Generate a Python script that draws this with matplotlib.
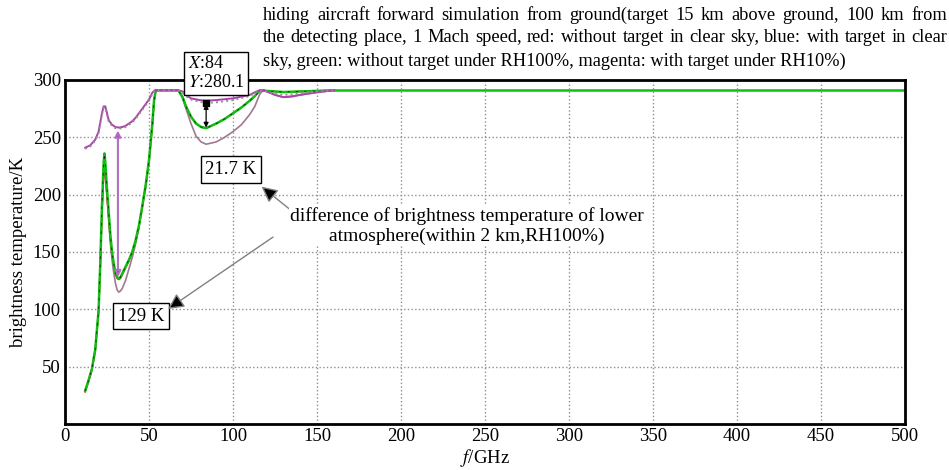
import numpy as np
import matplotlib
matplotlib.use("Agg")
import matplotlib.pyplot as plt

plt.rcParams['font.family'] = ['Liberation Serif', 'DejaVu Serif']
plt.rcParams['mathtext.fontset'] = 'stix'

# upper pair of curves (with / without target, dry air)
f_up = [12, 15, 18, 20, 21, 22, 23, 24, 25, 26, 28, 30, 32, 34, 36, 38, 40, 42, 44, 46, 48, 50,
        52, 53.5, 55, 67.5, 70, 72, 75, 80, 84, 90, 100, 110, 114, 116, 118, 120, 125, 130, 135,
        140, 150, 160]
tb_gray = [240, 242, 247, 254, 262, 270, 276, 276, 270, 264, 260, 258, 257.5, 258, 259, 261,
           263, 266, 270, 274, 278, 282, 288, 291, 291, 291, 289, 286, 283, 281, 280.1, 280.5,
           282.5, 286, 289.5, 291, 291, 290, 288, 287, 287.5, 288.5, 290, 291]
tb_mag = [241, 243, 248, 255, 263, 271, 277, 277, 271, 265, 261, 259, 258.5, 259, 260, 262,
          264, 267, 271, 275, 279, 283, 289, 291, 291, 291, 290, 287, 284, 282.5, 282, 282.5,
          284, 287, 290, 291, 291, 290, 287, 285, 285.5, 287, 289.5, 291]

# lower curves (humid air)
f_low = [12, 14, 16, 18, 20, 21, 22, 23, 23.5, 24, 25, 26, 27, 28, 29, 30, 31, 32, 33, 34, 36,
         38, 40, 42, 44, 46, 48, 50, 52, 53, 54, 67.5, 70, 72, 75, 78, 81, 84, 90, 95, 100, 105,
         110, 113, 116, 118, 120, 125, 130, 140, 150, 160]
tb_green = [29, 38, 48, 65, 99, 140, 190, 228, 236, 228, 205, 185, 165, 150, 140, 132, 128, 127,
            128, 131, 137, 143, 150, 160, 173, 190, 208, 230, 262, 282, 291, 291, 285, 277, 268,
            262, 259, 258, 262, 266, 271, 276, 282, 286, 291, 291, 290.5, 290, 289.5, 290,
            290.5, 291]
tb_red = [28, 37, 47, 64, 98, 138, 185, 218, 222, 216, 198, 180, 162, 148, 139, 131, 127, 126,
          127, 130, 136, 142, 149, 159, 172, 189, 207, 229, 261, 281, 291, 291, 285, 277, 268,
          262, 259, 258, 262, 266, 271, 276, 282, 286, 291, 291, 290.5, 290, 289.5, 290,
          290.5, 291]
tb_purple = [29, 38, 48, 65, 99, 140, 185, 222, 228, 222, 200, 178, 158, 143, 132, 123, 117, 115,
             116, 118, 125, 135, 145, 157, 172, 190, 208, 230, 262, 282, 291, 291, 284, 275, 262,
             251, 246, 244, 246, 250, 255, 261, 270, 277, 288, 291, 290, 287, 285, 287, 289, 291]

f_tail = [160, 500]
tb_tail = [291, 291]

title_lines = [
    "hiding aircraft forward simulation from ground(target 15 km above ground, 100 km from",
    "the detecting place, 1 Mach speed, red: without target in clear sky, blue: with target in clear",
    "sky, green: without target under RH100%, magenta: with target under RH10%)",
]

W, H = 949, 470
fig = plt.figure(figsize=(W / 100, H / 100), dpi=100)
ax = fig.add_axes([65 / W, (H - 424) / H, 840 / W, 344 / H])

ax.plot(f_low, tb_purple, '-', color='#a07890', lw=1.2)
ax.plot(f_low, tb_red, '-', color='#d03030', lw=1.2)
ax.plot(f_low, tb_green, '-', color='#10c010', lw=1.8)
ax.plot(f_tail, tb_tail, '-', color='#10c010', lw=1.8)
ax.plot(f_low, tb_green, '--', color='#202020', lw=0.6, dashes=(3, 7))
ax.plot(f_up, tb_mag, '-', color='#b040b0', lw=1.4)
ax.plot(f_up, tb_gray, ':', color='#909090', lw=1.4)

# data tip
ax.plot([84], [280.1], 's', color='black', ms=4)
ax.text(0.146, 1.019, '$X$:84\n$Y$:280.1', transform=ax.transAxes, fontsize=13,
        va='center', ha='left', linespacing=1.15,
        bbox=dict(boxstyle='square,pad=0.2', fc='white', ec='black', lw=1), clip_on=False)

ax.annotate('', xy=(84, 258.5), xytext=(84, 279),
            arrowprops=dict(arrowstyle='<|-|>', color='black', lw=0.9,
                            mutation_scale=7, shrinkA=0, shrinkB=0))
ax.annotate('', xy=(31.5, 128), xytext=(31.5, 256),
            arrowprops=dict(arrowstyle='<|-|>', ec='#b070c0', fc='#e000e0', lw=1.5,
                            mutation_scale=9, shrinkA=0, shrinkB=0))

box = dict(boxstyle='square,pad=0.25', fc='white', ec='black', lw=1)
ax.text(98.8, 222, '21.7 K', fontsize=13.5, ha='center', va='center', bbox=box)
ax.text(45.2, 94, '129 K', fontsize=13.5, ha='center', va='center', bbox=box)

arrow = dict(arrowstyle='-|>', ec='#808080', fc='black', lw=1, mutation_scale=24,
             shrinkA=0, shrinkB=0)
ax.annotate('', xy=(117, 207), xytext=(134, 187), arrowprops=arrow)
ax.annotate('', xy=(61.3, 100.3), xytext=(123.8, 163), arrowprops=arrow)

ax.text(239.3, 172.7, 'difference of brightness temperature of lower\natmosphere(within 2 km,RH100%)',
        fontsize=14, ha='center', va='center', linespacing=1.2,
        bbox=dict(fc='white', ec='none', pad=1))

# title, first two lines justified between x=263 and x=947 px
renderer = fig.canvas.get_renderer()
x0, x1 = 263, 947
for i, line in enumerate(title_lines):
    y = 1 - (15 + 23 * i) / H
    if i == len(title_lines) - 1:
        fig.text(x0 / W, y, line, fontsize=13.2, ha='left', va='center')
        continue
    words = line.split()
    objs = [fig.text(0, y, w, fontsize=13.2, ha='left', va='center') for w in words]
    widths = [o.get_window_extent(renderer).width for o in objs]
    gap = (x1 - x0 - sum(widths)) / (len(words) - 1)
    pos = x0
    for o, w in zip(objs, widths):
        o.set_x(pos / W)
        pos += w + gap

ax.set_xlim(0, 500)
ax.set_ylim(0, 300)
ax.set_xticks(np.arange(0, 501, 50))
ax.set_yticks(np.arange(50, 301, 50))
ax.tick_params(labelsize=13.5, length=0, pad=3)
ax.grid(True, linestyle=':', color='#909090', lw=1)
for s in ax.spines.values():
    s.set_linewidth(2)
ax.set_xlabel(r'$f$/GHz', fontsize=13.5, labelpad=1)
ax.set_ylabel('brightness temperature/K', fontsize=13.5, labelpad=4)

fig.savefig('out.png', dpi=100)
